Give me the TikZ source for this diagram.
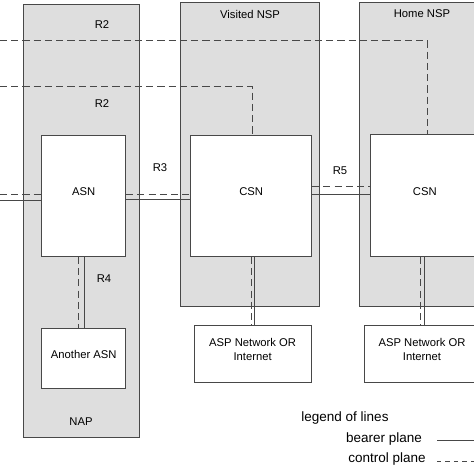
\documentclass[tikz,border=0pt]{standalone}
\usepackage{fontspec}
\setmainfont{Liberation Sans}
\usetikzlibrary{fit}

\definecolor{areagray}{HTML}{DEDEDE}
\definecolor{linegray}{HTML}{484848}

\begin{document}
\begin{tikzpicture}[x=0.025cm,y=-0.025cm,
        font=\fontsize{8}{10}\selectfont,
        area/.style={draw=linegray,fill=areagray,line width=0.7pt,inner sep=0pt},
        unit/.style={draw=linegray,fill=white,line width=0.7pt,inner sep=0pt,align=center},
        bearer/.style={draw=linegray,line width=0.7pt},
        ctrl/.style={draw=linegray,line width=0.7pt,dash pattern=on 5pt off 3pt},
        legendtxt/.style={font=\fontsize{9.6}{11}\selectfont}]
        \clip (0,0) rectangle (474,474);
        % operator areas
        \node[area,fit={(23.7,4.7) (139.7,437)}] (nap) {};
        \node[area,fit={(180.7,2.7) (319.3,306)}] (visited) {};
        \node[area,fit={(359.3,2.7) (486,306)}] (home) {};
        \node at (81,422) (naplbl) {NAP};
        \node at (250,14) (visitedlbl) {Visited NSP};
        \node at (422,14) (homelbl) {Home NSP};
        % network elements
        \node[unit,fit={(41.7,135.7) (125.7,256.3)}] (asn) {ASN};
        \node[unit,fit={(41.7,328) (125.7,388.7)}] (another) {Another ASN};
        \node[unit,fit={(190.7,135.7) (311.7,256.3)}] (csnv) {CSN};
        \node[unit,fit={(370.7,134.7) (479,256.3)}] (csnh) {CSN};
        \node[unit,fit={(194.3,325.7) (311,382.3)}] (aspv) {ASP Network OR\\Internet};
        \node[unit,fit={(364,325.7) (480,382.3)}] (asph) {ASP Network OR\\Internet};
        % reference points
        \coordinate (r2top) at (0,40.3);
        \coordinate (r2low) at (0,86.7);
        \coordinate (inctrl) at (0,194.3);
        \coordinate (inbear) at (0,200);
        \draw[ctrl] (r2top) -| (427.3,0 |- csnh.north);
        \draw[ctrl] (r2low) -| (252.7,0 |- csnv.north);
        \draw[ctrl] (inctrl) -- (inctrl -| asn.west);
        \draw[bearer] (inbear) -- (inbear -| asn.west);
        \draw[ctrl] (asn.east |- 0,194) -- (csnv.west |- 0,194);
        \draw[bearer] (asn.east |- 0,199.5) -- (csnv.west |- 0,199.5);
        \draw[ctrl] (csnv.east |- 0,186.5) -- (csnh.west |- 0,186.5);
        \draw[bearer] (csnv.east |- 0,194.3) -- (csnh.west |- 0,194.3);
        \draw[ctrl] (78,0 |- asn.south) -- (78,0 |- another.north);
        \draw[bearer] (84,0 |- asn.south) -- (84,0 |- another.north);
        \draw[ctrl] (251.3,0 |- csnv.south) -- (251.3,0 |- aspv.north);
        \draw[bearer] (254.7,0 |- csnv.south) -- (254.7,0 |- aspv.north);
        \draw[ctrl] (420,0 |- csnh.south) -- (420,0 |- asph.north);
        \draw[bearer] (424.7,0 |- csnh.south) -- (424.7,0 |- asph.north);
        \node at (102,25) (r2a) {R2};
        \node at (102,104) (r2b) {R2};
        \node at (160,168) (r3) {R3};
        \node at (104,279) (r4) {R4};
        \node at (340,171) (r5) {R5};
        % legend
        \node[legendtxt] at (345,418) (legend) {legend of lines};
        \node[legendtxt] at (384,439) (bearerlbl) {bearer plane};
        \node[legendtxt] at (387,459) (ctrllbl) {control plane};
        \coordinate (bearerend) at (474,440);
        \coordinate (ctrlend) at (474,461);
        \draw[bearer] (437,0 |- bearerend) -- (bearerend);
        \draw[bearer,dash pattern=on 3pt off 3pt] (437,0 |- ctrlend) -- (ctrlend);
    \end{tikzpicture}
\end{document}
